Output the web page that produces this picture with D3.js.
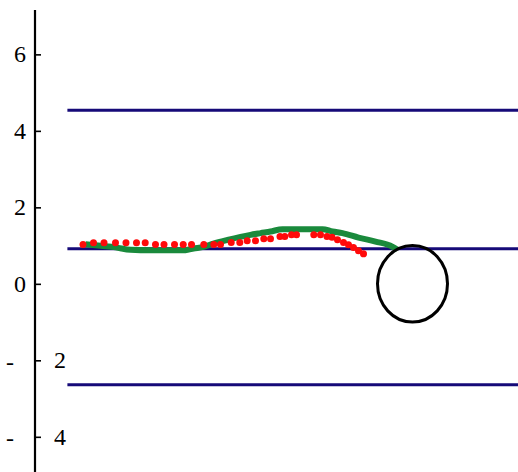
<!DOCTYPE html>
<html>
<head>
<meta charset="utf-8">
<script src="https://cdn.jsdelivr.net/npm/d3@7"></script>
<style>
  html, body { margin: 0; padding: 0; background: #fff; }
  svg { display: block; }
</style>
</head>
<body>
<svg id="chart" width="518" height="472"></svg>
<script>
// ---- data ----
const yTicks = [-4, -2, 0, 2, 4, 6];
const hLineValues = [4.54, 0.915, -2.64];
const hLineStartX = -9.86;

const greenX = [-9.343, -8.914, -8.486, -8.057, -7.486, -6.914, -6.486, -6.257, -5.971, -5.686, -5.286, -4.914, -4.629, -4.343, -4.057, -3.714, -3.2, -2.571, -2.286, -2.0, -1.543, -1.057, -0.58, -0.429];
const greenY = [1.033, 0.993, 0.954, 0.889, 0.876, 0.876, 0.881, 0.923, 0.967, 1.054, 1.15, 1.229, 1.281, 1.325, 1.367, 1.43, 1.43, 1.43, 1.367, 1.325, 1.21, 1.106, 0.975, 0.889];

const redX = [-9.414, -9.114, -8.814, -8.486, -8.186, -7.886, -7.637, -7.343, -7.1, -6.8, -6.551, -6.314, -5.963, -5.677, -5.486, -5.18, -4.934, -4.723, -4.486, -4.249, -4.057, -3.786, -3.649, -3.457, -3.314, -2.82, -2.629, -2.443, -2.3, -2.143, -1.971, -1.829, -1.686, -1.543, -1.4];
const redY = [1.027, 1.072, 1.072, 1.072, 1.072, 1.072, 1.072, 1.027, 1.027, 1.027, 1.027, 1.027, 1.027, 1.027, 1.027, 1.08, 1.08, 1.124, 1.124, 1.176, 1.176, 1.237, 1.237, 1.281, 1.281, 1.281, 1.281, 1.237, 1.221, 1.15, 1.08, 1.02, 0.949, 0.863, 0.784];

const circleCenter = [0, 0];
const circleRadius = 1;

// ---- scales ----
const svg = d3.select("#chart");
const x = d3.scaleLinear().domain([-11, 3]).range([27.5, 517.5]);
const y = d3.scaleLinear().domain([-4.92, 7.16]).range([472, 10]);
const axisX = 35;

// horizontal reference lines
svg.append("g").selectAll("line").data(hLineValues).join("line")
  .attr("x1", x(hLineStartX)).attr("x2", 518)
  .attr("y1", d => y(d)).attr("y2", d => y(d))
  .attr("stroke", "#160a78").attr("stroke-width", 3);

// green line
const greenData = greenX.map((d, i) => [d, greenY[i]]);
svg.append("path")
  .datum(greenData)
  .attr("fill", "none")
  .attr("stroke", "#1a8a3c")
  .attr("stroke-width", 6)
  .attr("stroke-linejoin", "round")
  .attr("d", d3.line().curve(d3.curveMonotoneX).x(d => x(d[0])).y(d => y(d[1])));

// red dots
const redData = redX.map((d, i) => [d, redY[i]]);
svg.append("g").selectAll("circle").data(redData).join("circle")
  .attr("cx", d => x(d[0])).attr("cy", d => y(d[1]))
  .attr("r", 3.5).attr("fill", "#ff0a0a");

// black circle
svg.append("ellipse")
  .attr("cx", x(circleCenter[0])).attr("cy", y(circleCenter[1]))
  .attr("rx", x(circleRadius) - x(0)).attr("ry", y(0) - y(circleRadius))
  .attr("fill", "none").attr("stroke", "#000").attr("stroke-width", 3);

// y axis
const axisG = svg.append("g").attr("transform", `translate(${axisX},0)`)
  .call(d3.axisRight(y).tickValues(yTicks).tickSize(6).tickFormat(""));
axisG.select(".domain").attr("stroke", "#000").attr("stroke-width", 2.2)
  .attr("d", `M0,${y(7.16)}V472`);
axisG.selectAll(".tick line").attr("stroke", "#000").attr("stroke-width", 1.6);

// tick labels
const lab = svg.append("g");
function styleText(sel) {
  return sel.style("font-family", '"Liberation Serif"').style("font-size", "24px").style("fill", "#000");
}
yTicks.forEach(v => {
  if (v >= 0) {
    styleText(lab.append("text")).attr("x", 26).attr("y", y(v)).attr("dy", "0.33em")
      .attr("text-anchor", "end").text(String(v));
  } else {
    styleText(lab.append("text")).attr("x", 10).attr("y", y(v)).attr("dy", "0.4em")
      .attr("text-anchor", "middle").text("-");
    styleText(lab.append("text")).attr("x", 54).attr("y", y(v)).attr("dy", "0.33em")
      .attr("text-anchor", "start").text(String(Math.abs(v)));
  }
});
</script>
</body>
</html>
